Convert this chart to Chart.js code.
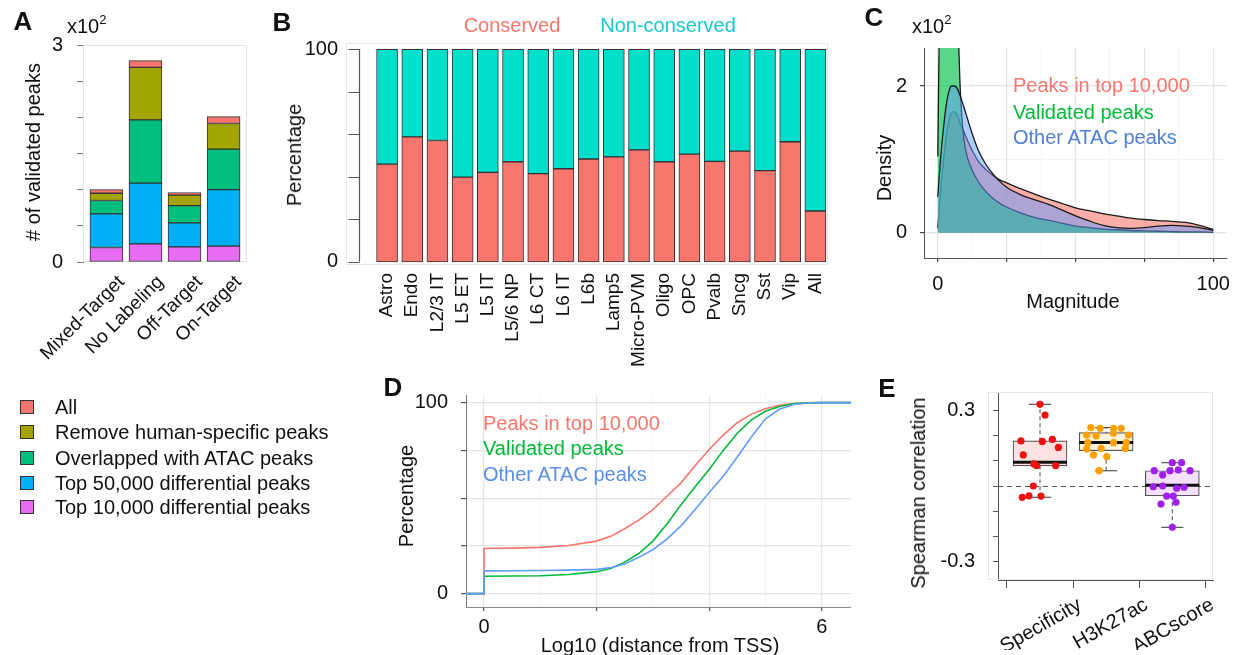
<!DOCTYPE html>
<html>
<head>
<meta charset="utf-8">
<title>Validated peaks</title>
<script src="https://cdn.jsdelivr.net/npm/chart.js@4.4.1/dist/chart.umd.min.js"></script>
<style>
  html, body { margin: 0; padding: 0; background: #fff; }
  body { position: relative; width: 1234px; height: 655px; overflow: hidden;
         font-family: 'Liberation Sans', Arial, sans-serif; color: #111; }
  canvas { position: absolute; left: 0; top: 0; }
  .t { position: absolute; white-space: nowrap; font-size: 20px; line-height: 1; transform: translateY(-50%); }
  .ct { position: absolute; white-space: nowrap; font-size: 20px; line-height: 1; transform: translate(-50%, -50%); }
  .vt { position: absolute; white-space: nowrap; font-size: 20px; line-height: 1; transform: translate(-50%, -50%) rotate(-90deg); }
  .tag { position: absolute; font-size: 26px; font-weight: bold; line-height: 1; transform: translate(-50%, -50%); }
  .key { position: absolute; width: 12px; height: 12px; border: 1px solid #333; transform: translateY(-50%); }
  sup { font-size: 13px; vertical-align: 9px; line-height: 0; }
</style>
</head>
<body>
<canvas id="chartA" width="1300" height="700"></canvas>
<canvas id="chartB" width="1300" height="700"></canvas>
<canvas id="chartC" width="1300" height="700"></canvas>
<canvas id="chartD" width="1300" height="700"></canvas>
<canvas id="chartE" width="1300" height="700"></canvas>

<div class="tag" style="left:23px; top:21px;">A</div>
<div class="t" style="left:67px; top:26px;">x10<sup>2</sup></div>
<div class="vt" style="left:33px; top:152px;"># of validated peaks</div>
<div id="legendA"></div>

<div class="tag" style="left:282px; top:22px;">B</div>
<div class="ct" style="left:512px; top:25px; color:#F8766D;">Conserved</div>
<div class="ct" style="left:668px; top:25px; color:#19C8CF;">Non-conserved</div>
<div class="vt" style="left:294px; top:155px;">Percentage</div>

<div class="tag" style="left:874px; top:17px;">C</div>
<div class="t" style="left:912px; top:26px;">x10<sup>2</sup></div>
<div class="vt" style="left:884px; top:168px;">Density</div>
<div class="ct" style="left:1073px; top:301px;">Magnitude</div>
<div class="t" style="left:1013px; top:85px; color:#F8766D;">Peaks in top 10,000</div>
<div class="t" style="left:1013px; top:112px; color:#00BA38;">Validated peaks</div>
<div class="t" style="left:1013px; top:137px; color:#4F7FD9;">Other ATAC peaks</div>

<div class="tag" style="left:393px; top:387px;">D</div>
<div class="vt" style="left:406px; top:496px;">Percentage</div>
<div class="ct" style="left:660px; top:645px;">Log10 (distance from TSS)</div>
<div class="t" style="left:483px; top:423px; color:#F8766D;">Peaks in top 10,000</div>
<div class="t" style="left:483px; top:448px; color:#00BA38;">Validated peaks</div>
<div class="t" style="left:483px; top:474px; color:#5B8FEA;">Other ATAC peaks</div>

<div class="tag" style="left:887px; top:388px;">E</div>
<div class="vt" style="left:918px; top:493px;">Spearman correlation</div>

<script>
// ---- A: validated peaks per labeling group (stack segments, bottom layer first)
const aGroups = ['Mixed-Target', 'No Labeling', 'Off-Target', 'On-Target'];
const aLayers = ['Top 10,000 differential peaks', 'Top 50,000 differential peaks',
                 'Overlapped with ATAC peaks', 'Remove human-specific peaks', 'All'];
const aColors = ['#E76BF3', '#00B0F6', '#00BF7D', '#A3A500', '#F8766D'];
const aTop10k  = [20, 25, 21, 22];
const aTop50k  = [46.5, 84, 33, 78];
const aOverlap = [18.5, 87.5, 24, 56];
const aNoHuman = [10, 72.5, 14.5, 35.5];
const aAll     = [5, 9.5, 3.5, 9.5];
const aTicks = [0, 50, 100, 150, 200, 250, 300];

// ---- B: conserved share by cell type (%)
const bTypes = ['Astro', 'Endo', 'L2/3 IT', 'L5 ET', 'L5 IT', 'L5/6 NP', 'L6 CT', 'L6 IT', 'L6b',
                'Lamp5', 'Micro-PVM', 'Oligo', 'OPC', 'Pvalb', 'Sncg', 'Sst', 'Vip', 'All'];
const bConserved    = [46.0, 58.8, 57.1, 39.9, 42.1, 47.1, 41.5, 43.8, 48.4, 49.4, 52.7, 47.1, 50.7, 47.3, 52.1, 42.9, 56.5, 23.9];
const bNonConserved = [54.0, 41.2, 42.9, 60.1, 57.9, 52.9, 58.5, 56.2, 51.6, 50.6, 47.3, 52.9, 49.3, 52.7, 47.9, 57.1, 43.5, 76.1];
const bTicks = [0, 20, 40, 60, 80, 100];

// ---- C: magnitude density (x10^2)
const magX = [0, 0.5, 1, 2, 3, 4, 5, 6, 7, 7.5, 8, 9, 10, 12.5, 15, 17.5, 20, 22.5, 25, 30,
              35, 40, 45, 50, 55, 60, 65, 70, 75, 80, 85, 90, 95, 100];
const cTop10k = [0.06, 0.3, 0.55, 0.95, 1.3, 1.52, 1.63, 1.65, 1.6, 1.56, 1.5, 1.42, 1.33, 1.12, 0.96, 0.86, 0.78, 0.72, 0.68, 0.60,
                 0.53, 0.46, 0.40, 0.34, 0.30, 0.26, 0.23, 0.20, 0.18, 0.165, 0.155, 0.14, 0.10, 0.045];
const cValidated = [1.04, 2.6, 3.6, 4.2, 4.3, 4.2, 4.0, 3.6, 3.2, 2.7, 2.1, 1.45, 1.15, 0.85, 0.68, 0.56, 0.47, 0.40, 0.35, 0.27,
                    0.21, 0.17, 0.13, 0.09, 0.07, 0.05, 0.04, 0.03, 0.025, 0.02, 0.015, 0.01, 0.01, 0.005];
const cOther = [0.49, 0.75, 1.0, 1.4, 1.72, 1.92, 2.0, 2.0, 1.97, 1.93, 1.88, 1.77, 1.65, 1.35, 1.1, 0.93, 0.80, 0.70, 0.62, 0.52,
                0.45, 0.39, 0.31, 0.23, 0.16, 0.10, 0.07, 0.06, 0.07, 0.09, 0.10, 0.09, 0.07, 0.03];
const cXTicks = [0, 12.5, 25, 37.5, 50, 62.5, 75, 87.5, 100];
const cYTicks = [0, 1, 2];

// ---- D: cumulative distance to TSS (%)
const distX = [-0.32, 0, 0, 0.5, 1, 1.5, 2, 2.25, 2.5, 2.75, 3, 3.25, 3.5, 3.75, 4, 4.25, 4.5, 4.75, 5, 5.25, 5.5, 5.75, 6, 6.52];
const dTop10k    = [0, 0, 23.6, 23.8, 24.2, 25.2, 27.5, 30, 34, 38.5, 44, 51, 58, 67, 75.5, 83, 89.5, 94, 96.8, 98.6, 99.5, 99.9, 100, 100];
const dValidated = [0, 0, 9.1, 9.2, 9.4, 10, 11.5, 13.2, 16.5, 21, 27.5, 36.5, 46.5, 56, 65, 75, 84, 91, 95.5, 98, 99.4, 99.9, 100, 100];
const dOther     = [0, 0, 11.9, 12.0, 12.1, 12.3, 12.7, 13.6, 15.5, 19, 23, 28.5, 35.5, 44, 53, 61.5, 71.5, 82, 91.5, 96.5, 99, 99.8, 100, 100];
const dXTicks = [0, 1, 2, 3, 4, 5, 6];
const dYTicks = [0, 12.5, 25, 37.5, 50, 62.5, 75, 87.5, 100];

// ---- E: Spearman correlation boxplots
const eGroups = ['Specificity', 'H3K27ac', 'ABCscore'];
const eLow  = [-0.045, 0.061, -0.165];
const eQ1   = [0.08, 0.141, -0.039];
const eMed  = [0.095, 0.174, 0.003];
const eQ3   = [0.18, 0.213, 0.061];
const eHigh = [0.326, 0.233, 0.093];
const eFill = ['#FFE1E1', '#FFF4DA', '#F4E0FA'];
const eDot  = ['#F01010', '#FFA000', '#A020F0'];
const eSpecJit = [0, 0.076, -0.288, 0.035, 0.187, 0.278, -0.253, -0.091, -0.05, 0.237, -0.101, -0.268, -0.167, 0.015];
const eSpecVal = [0.326, 0.283, 0.18, 0.178, 0.186, 0.154, 0.124, 0.088, 0.081, 0.081, 0.0, -0.045, -0.039, -0.04];
const eH3Jit = [-0.232, -0.091, 0.111, 0.227, -0.293, -0.152, 0.111, 0.338, -0.278, 0.111, 0.303, -0.293, -0.076, 0.288, -0.192, 0.01, -0.106];
const eH3Val = [0.233, 0.230, 0.230, 0.230, 0.203, 0.200, 0.210, 0.203, 0.173, 0.173, 0.173, 0.148, 0.150, 0.150, 0.124, 0.117, 0.061];
const eAbcJit = [0, 0.141, -0.273, -0.146, -0.035, 0.091, 0.268, -0.288, -0.146, 0.066, 0.177, -0.086, 0.015, -0.172, 0.056, 0];
const eAbcVal = [0.093, 0.093, 0.061, 0.044, 0.061, 0.064, 0.061, -0.003, 0.0, -0.009, -0.005, -0.040, -0.040, -0.072, -0.065, -0.165];
const eTicks = [-0.3, -0.2, -0.1, 0, 0.1, 0.2, 0.3];

Chart.defaults.font.family = "'Liberation Sans', Arial, sans-serif";
Chart.defaults.font.size = 20;
Chart.defaults.color = '#111';
Chart.defaults.animation = false;
Chart.defaults.responsive = false;
Chart.defaults.plugins.legend.display = false;
Chart.defaults.plugins.tooltip.enabled = false;

// every canvas covers the page; the plot area is placed through the layout padding
const W = 1300, H = 700;
function areaPad(l, t, r, b, yw, xh) {
  return { left: l - yw, top: t, right: W - r, bottom: H - b - xh };
}
function fixAxis(size) {
  return s => { if (s.isHorizontal()) s.height = size; else s.width = size; };
}
function setTicks(values) {
  return s => { s.ticks = values.map(v => ({ value: v })); };
}
function xy(xs, ys) {
  return ys.map((v, i) => ({ x: xs[i], y: v }));
}

// light panel frame, dashed zero line and a base-R style y axis
const panelDecor = {
  id: 'panelDecor',
  beforeDatasetsDraw(chart, args, o) {
    const { ctx, chartArea: a } = chart;
    ctx.save();
    if (o.frame) {
      const ext = o.frameLeft || 0;
      ctx.strokeStyle = o.frame;
      ctx.lineWidth = 1;
      ctx.strokeRect(a.left - ext + 0.5, a.top + 0.5, a.right - a.left + ext - 1, a.bottom - a.top - 1);
    }
    if (o.zeroLine) {
      const y = Math.round(chart.scales.y.getPixelForValue(0)) + 0.5;
      ctx.strokeStyle = o.zeroLine;
      ctx.lineWidth = 1.2;
      ctx.setLineDash([5, 4]);
      ctx.beginPath();
      ctx.moveTo(a.left, y);
      ctx.lineTo(a.right, y);
      ctx.stroke();
    }
    ctx.restore();
  },
  afterDatasetsDraw(chart, args, o) {
    if (o.axisInset === undefined) return;
    const { ctx, chartArea: a } = chart;
    const ys = chart.scales.y;
    const vals = ys.ticks.map(t => t.value);
    const x0 = Math.round(a.left + o.axisInset) + 0.5;
    ctx.save();
    ctx.strokeStyle = o.axisColor;
    ctx.lineWidth = 1.2;
    ctx.beginPath();
    ctx.moveTo(x0, ys.getPixelForValue(Math.min(...vals)));
    ctx.lineTo(x0, ys.getPixelForValue(Math.max(...vals)));
    vals.forEach(v => {
      const y = Math.round(ys.getPixelForValue(v)) + 0.5;
      ctx.moveTo(x0, y);
      ctx.lineTo(x0 - o.axisTick, y);
    });
    ctx.stroke();
    ctx.restore();
  }
};

// ---- A
const aSeries = [aTop10k, aTop50k, aOverlap, aNoHuman, aAll];
new Chart(document.getElementById('chartA'), {
  type: 'bar',
  data: {
    datasets: aSeries.map((vals, k) => ({
      label: aLayers[k],
      data: vals.map((v, i) => ({ x: i, y: v })),
      backgroundColor: aColors[k],
      borderColor: '#333',
      borderWidth: 1,
      borderSkipped: false,
      barThickness: 33
    }))
  },
  options: {
    layout: { padding: areaPad(83, 45, 247, 262, 40, 100) },
    plugins: { panelDecor: { frame: '#E3E3E3' } },
    scales: {
      x: {
        type: 'linear', stacked: true, offset: false, min: -0.6, max: 3.6,
        afterBuildTicks: setTicks([0, 1, 2, 3]), afterFit: fixAxis(100),
        grid: { display: false, drawTicks: false }, border: { display: false },
        ticks: { autoSkip: false, minRotation: 45, maxRotation: 45, labelOffset: 15, padding: 9,
                 font: { size: 19 }, callback: v => aGroups[v] }
      },
      y: {
        stacked: true, min: 0, max: 300,
        afterBuildTicks: setTicks(aTicks), afterFit: fixAxis(40),
        grid: { drawOnChartArea: false, tickLength: 6, tickColor: '#777' },
        border: { color: '#777' },
        ticks: { padding: 14, callback: v => v === 300 ? '3' : (v === 0 ? '0' : '') }
      }
    }
  },
  plugins: [panelDecor]
});

// legend of A, top layer first
const legendA = document.getElementById('legendA');
const legendRows = [407, 432, 458, 483, 507];
aLayers.slice().reverse().forEach((name, k) => {
  const color = aColors[aColors.length - 1 - k];
  legendA.insertAdjacentHTML('beforeend',
    '<div class="key" style="left:20px; top:' + legendRows[k] + 'px; background:' + color + ';"></div>' +
    '<div class="t" style="left:55px; top:' + legendRows[k] + 'px;">' + name + '</div>');
});

// ---- B
new Chart(document.getElementById('chartB'), {
  type: 'bar',
  data: {
    datasets: [
      { label: 'Conserved', data: bConserved.map((v, i) => ({ x: i, y: v })), backgroundColor: '#F8766D' },
      { label: 'Non-conserved', data: bNonConserved.map((v, i) => ({ x: i, y: v })), backgroundColor: '#00DFCB' }
    ].map(d => Object.assign(d, { borderColor: '#333', borderWidth: 1, borderSkipped: false, barThickness: 21 }))
  },
  options: {
    layout: { padding: areaPad(346, 43, 828, 265, 60, 120) },
    plugins: { panelDecor: { frame: '#E6E6E6', axisInset: 13, axisTick: 11, axisColor: '#555' } },
    scales: {
      x: {
        type: 'linear', stacked: true, offset: false, min: -1.63, max: 17.5,
        afterBuildTicks: setTicks(bTypes.map((t, i) => i)), afterFit: fixAxis(120),
        grid: { display: false, drawTicks: false }, border: { display: false },
        ticks: { autoSkip: false, minRotation: 90, maxRotation: 90, padding: 8, font: { size: 19 },
                 callback: v => bTypes[v] }
      },
      y: {
        stacked: true, min: -1.5, max: 103,
        afterBuildTicks: setTicks(bTicks), afterFit: fixAxis(60),
        grid: { display: false, drawTicks: false }, border: { display: false },
        ticks: { padding: 8, callback: v => (v === 0 || v === 100) ? String(v) : '' }
      }
    }
  },
  plugins: [panelDecor]
});

// ---- C
const cMajorX = v => v % 25 === 0;
new Chart(document.getElementById('chartC'), {
  type: 'line',
  data: {
    datasets: [
      { label: 'Other ATAC peaks', data: xy(magX, cOther), backgroundColor: 'rgba(97,156,255,0.5)' },
      { label: 'Validated peaks', data: xy(magX, cValidated), backgroundColor: 'rgba(0,195,75,0.65)' },
      { label: 'Peaks in top 10,000', data: xy(magX, cTop10k), backgroundColor: 'rgba(248,118,109,0.6)' }
    ].map(d => Object.assign(d, { borderColor: '#1a1a1a', borderWidth: 1.3, fill: 'origin',
                                  pointRadius: 0, cubicInterpolationMode: 'monotone' }))
  },
  options: {
    layout: { padding: areaPad(924, 48, 1227, 258, 40, 60) },
    scales: {
      x: {
        type: 'linear', min: -5, max: 105,
        afterBuildTicks: setTicks(cXTicks), afterFit: fixAxis(60),
        grid: {
          color: c => cMajorX(c.tick.value) ? '#E4E4E4' : '#F0F0F0',
          lineWidth: c => cMajorX(c.tick.value) ? 1.2 : 0.7,
          tickLength: 4,
          tickColor: c => cMajorX(c.tick.value) ? '#444' : 'rgba(0,0,0,0)'
        },
        border: { color: '#555' },
        ticks: { padding: 10, maxRotation: 0, callback: v => (v === 0 || v === 100) ? String(v) : '' }
      },
      y: {
        min: -0.345, max: 2.518,
        afterBuildTicks: setTicks(cYTicks), afterFit: fixAxis(40),
        grid: {
          color: c => c.tick.value === 1 ? '#F0F0F0' : '#E4E4E4',
          lineWidth: c => c.tick.value === 1 ? 0.7 : 1.2,
          tickLength: 4,
          tickColor: c => c.tick.value === 1 ? 'rgba(0,0,0,0)' : '#444'
        },
        border: { color: '#555' },
        ticks: { padding: 13, callback: v => (v === 0 || v === 2) ? String(v) : '' }
      }
    }
  }
});

// ---- D
new Chart(document.getElementById('chartD'), {
  type: 'line',
  data: {
    datasets: [
      { label: 'Other ATAC peaks', data: xy(distX, dOther), borderColor: '#619CFF' },
      { label: 'Validated peaks', data: xy(distX, dValidated), borderColor: '#00BA38' },
      { label: 'Peaks in top 10,000', data: xy(distX, dTop10k), borderColor: '#F8766D' }
    ].map(d => Object.assign(d, { borderWidth: 1.6, pointRadius: 0, tension: 0, fill: false }))
  },
  options: {
    layout: { padding: areaPad(466, 395, 851, 607, 60, 60) },
    scales: {
      x: {
        type: 'linear', min: -0.32, max: 6.52,
        afterBuildTicks: setTicks(dXTicks), afterFit: fixAxis(60),
        grid: {
          color: c => c.tick.value % 2 === 0 ? '#E4E4E4' : '#F0F0F0',
          lineWidth: c => c.tick.value % 2 === 0 ? 1.2 : 0.7,
          tickLength: 4,
          tickColor: c => c.tick.value % 2 === 0 ? '#555' : 'rgba(0,0,0,0)'
        },
        border: { color: '#888' },
        ticks: { padding: 4, maxRotation: 0, callback: v => (v === 0 || v === 6) ? String(v) : '' }
      },
      y: {
        min: -7, max: 104,
        afterBuildTicks: setTicks(dYTicks), afterFit: fixAxis(60),
        grid: {
          color: c => c.tick.value % 25 === 0 ? '#E4E4E4' : '#F0F0F0',
          lineWidth: c => c.tick.value % 25 === 0 ? 1.2 : 0.7,
          tickLength: 5,
          tickColor: c => c.tick.value % 25 === 0 ? '#555' : 'rgba(0,0,0,0)'
        },
        border: { color: '#777' },
        ticks: { padding: 13, callback: v => (v === 0 || v === 100) ? String(v) : '' }
      }
    }
  }
});

// ---- E
const ePoints = [[eSpecJit, eSpecVal], [eH3Jit, eH3Val], [eAbcJit, eAbcVal]];
const eWhiskers = [];
eLow.forEach((lo, i) => { eWhiskers.push({ x: i, y: lo }, { x: i, y: eHigh[i] }, { x: i, y: null }); });
new Chart(document.getElementById('chartE'), {
  type: 'bar',
  data: {
    datasets: ePoints.map(([jit, vals], k) => ({
      type: 'scatter', label: eGroups[k],
      data: vals.map((v, j) => ({ x: k + jit[j], y: v })),
      backgroundColor: eDot[k], borderWidth: 0, pointRadius: 3.6, order: 0
    })).concat([
      { type: 'scatter', label: 'median', data: eMed.map((v, i) => ({ x: i, y: v })),
        pointStyle: 'line', pointRadius: 27, borderColor: '#111', borderWidth: 3, order: 1 },
      { type: 'scatter', label: 'whisker ends', data: eLow.concat(eHigh).map((v, i) => ({ x: i % 3, y: v })),
        pointStyle: 'line', pointRadius: 11, borderColor: '#555', borderWidth: 1.2, order: 1 },
      { type: 'bar', label: 'IQR', data: eQ1.map((q, i) => ({ x: i, y: [q, eQ3[i]] })),
        backgroundColor: eFill, borderColor: '#555', borderWidth: 1.2, borderSkipped: false,
        barThickness: 54, order: 2 },
      { type: 'line', label: 'whiskers', data: eWhiskers, borderColor: '#666', borderWidth: 1.2,
        borderDash: [4, 3], pointRadius: 0, spanGaps: false, fill: false, order: 3 }
    ])
  },
  options: {
    layout: { padding: areaPad(998, 392, 1213, 580, 100, 70) },
    plugins: { panelDecor: { frame: '#E6E6E6', frameLeft: 10, zeroLine: '#555' } },
    scales: {
      x: {
        type: 'linear', offset: false, min: -0.635, max: 2.615,
        afterBuildTicks: setTicks([0, 1, 2]), afterFit: fixAxis(70),
        grid: { drawOnChartArea: false, tickLength: 8, tickColor: '#555' },
        border: { color: '#555' },
        ticks: { autoSkip: false, minRotation: 30, maxRotation: 30, labelOffset: 40, padding: 5,
                 callback: v => eGroups[v] }
      },
      y: {
        min: -0.375, max: 0.375,
        afterBuildTicks: setTicks(eTicks), afterFit: fixAxis(100),
        grid: { drawOnChartArea: false, tickLength: 5, tickColor: '#555' },
        border: { color: '#555' },
        ticks: { padding: 18, callback: v => Math.abs(Math.abs(v) - 0.3) < 1e-9 ? v.toFixed(1) : '' }
      }
    }
  },
  plugins: [panelDecor]
});
</script>
</body>
</html>
